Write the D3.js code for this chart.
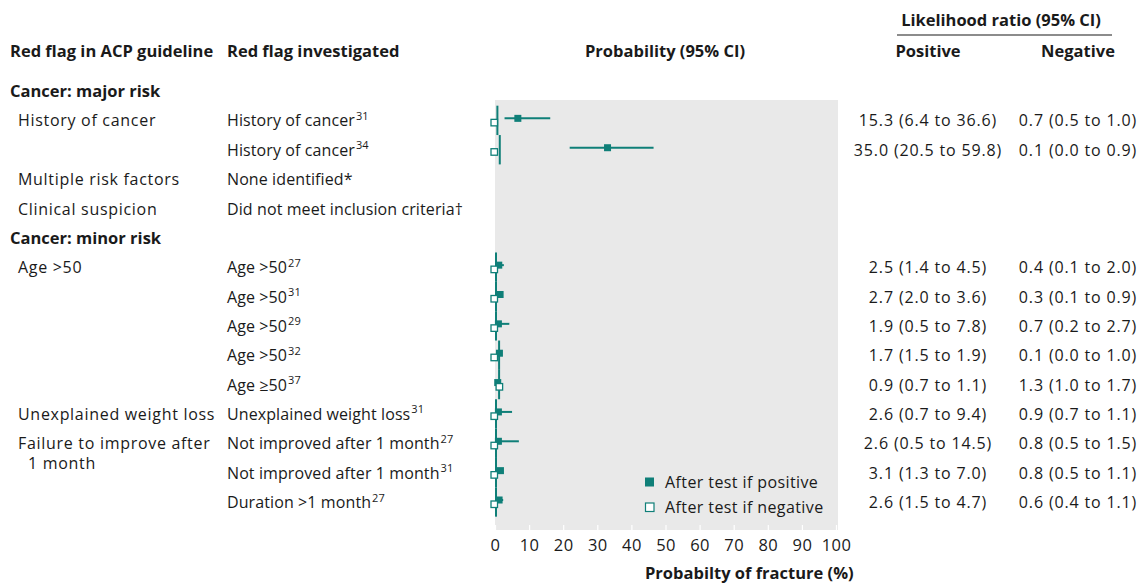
<!DOCTYPE html>
<html>
<head>
<meta charset="utf-8">
<script src="https://cdn.jsdelivr.net/npm/d3@7"></script>
<style>
  html, body { margin: 0; padding: 0; background: #fff; }
  svg { display: block; }
  text { font-family: "Open Sans", "Noto Sans", sans-serif; fill: #1a1a1a; }
</style>
</head>
<body>
<svg id="chart" width="1139" height="585"></svg>
<script>
// ---------- data ----------
// Row labels (index 0 = "Cancer: major risk" section row)
const guidelineLabels = ["Cancer: major risk", "History of cancer", "", "Multiple risk factors", "Clinical suspicion",
  "Cancer: minor risk", "Age >50", "", "", "", "", "Unexplained weight loss", "Failure to improve after", "", ""];
const guidelineWrap = [null, null, null, null, null, null, null, null, null, null, null, null, "1 month", null, null];
const sectionRows = [0, 5];
const investigatedLabels = ["", "History of cancer", "History of cancer", "None identified*", "Did not meet inclusion criteria\u2020",
  "", "Age >50", "Age >50", "Age >50", "Age >50", "Age \u226550", "Unexplained weight loss",
  "Not improved after 1 month", "Not improved after 1 month", "Duration >1 month"];
const refs = ["", "31", "34", "", "", "", "27", "31", "29", "32", "37", "31", "27", "31", "27"];

// Studies (rows with estimates)
const studyRows = [1, 2, 6, 7, 8, 9, 10, 11, 12, 13, 14];
const pretest  = [0.7, 1.4, 0.3, 0.3, 0.3, 1.2, 1.2, 0.3, 0.3, 0.3, 0.3];
const posEst   = [6.7, 33.0, 1.1, 1.5, 1.0, 1.3, 0.8, 1.0, 1.0, 1.6, 1.2];
const posLo    = [2.8, 21.9, 0.6, 1.1, 0.3, 1.2, 0.6, 0.3, 0.2, 0.7, 0.6];
const posHi    = [16.2, 46.5, 2.6, 1.9, 4.2, 1.5, 0.9, 5.0, 7.0, 2.2, 2.4];
const negEst   = [0.0, 0.0, 0.0, 0.0, 0.0, 0.0, 1.5, 0.0, 0.0, 0.0, 0.0];
const negLo    = [0.0, 0.0, 0.0, 0.0, 0.0, 0.0, 1.2, 0.0, 0.0, 0.0, 0.0];
const negHi    = [0.0, 0.0, 0.1, 0.0, 0.2, 0.0, 1.7, 0.0, 0.0, 0.0, 0.0];
const lrPositive = ["15.3 (6.4 to 36.6)", "35.0 (20.5 to 59.8)", "2.5 (1.4 to 4.5)", "2.7 (2.0 to 3.6)", "1.9 (0.5 to 7.8)",
  "1.7 (1.5 to 1.9)", "0.9 (0.7 to 1.1)", "2.6 (0.7 to 9.4)", "2.6 (0.5 to 14.5)", "3.1 (1.3 to 7.0)", "2.6 (1.5 to 4.7)"];
const lrNegative = ["0.7 (0.5 to 1.0)", "0.1 (0.0 to 0.9)", "0.4 (0.1 to 2.0)", "0.3 (0.1 to 0.9)", "0.7 (0.2 to 2.7)",
  "0.1 (0.0 to 1.0)", "1.3 (1.0 to 1.7)", "0.9 (0.7 to 1.1)", "0.8 (0.5 to 1.5)", "0.8 (0.5 to 1.1)", "0.6 (0.4 to 1.1)"];
const xTicks = [0, 10, 20, 30, 40, 50, 60, 70, 80, 90, 100];
const legendLabels = ["After test if positive", "After test if negative"];

// ---------- layout ----------
const teal = "#0f7f78";
const fs = 16, fsb = 16.5;
const svg = d3.select("#chart");
const x = d3.scaleLinear().domain([0, 100]).range([495, 836]);
const y = d3.scaleLinear().domain([0, 14]).range([91, 502]);
const plotTop = 100, plotBottom = 530, plotRight = 838;

// background panel
svg.append("rect").attr("x", x(0)).attr("y", plotTop)
  .attr("width", plotRight - x(0)).attr("height", plotBottom - plotTop).attr("fill", "#e9e9e9");

// headers
const hdr = svg.append("g").attr("font-weight", 700).attr("font-size", fsb);
hdr.append("text").attr("x", 10).attr("y", 51).attr("dy", "0.35em").text("Red flag in ACP guideline");
hdr.append("text").attr("x", 227).attr("y", 51).attr("dy", "0.35em").text("Red flag investigated");
hdr.append("text").attr("x", 665).attr("y", 51).attr("dy", "0.35em").attr("text-anchor", "middle").text("Probability (95% CI)");
hdr.append("text").attr("x", 1001).attr("y", 20).attr("dy", "0.35em").attr("text-anchor", "middle").text("Likelihood ratio (95% CI)");
hdr.append("text").attr("x", 928).attr("y", 51).attr("dy", "0.35em").attr("text-anchor", "middle").text("Positive");
hdr.append("text").attr("x", 1078).attr("y", 51).attr("dy", "0.35em").attr("text-anchor", "middle").text("Negative");
svg.append("line").attr("x1", 897).attr("x2", 1112).attr("y1", 35).attr("y2", 35).attr("stroke", "#1a1a1a").attr("stroke-width", 1.2);

// row labels
const rows = svg.append("g").attr("font-size", fs);
guidelineLabels.forEach((lab, i) => {
  if (!lab) return;
  const sec = sectionRows.includes(i);
  rows.append("text").attr("x", sec ? 10 : 18).attr("y", y(i) + (sec ? 0 : 0.5)).attr("dy", "0.35em")
    .attr("font-weight", sec ? 700 : 400).attr("font-size", sec ? fsb : fs)
    .attr("letter-spacing", sec ? 0 : 0.7).text(lab);
  if (guidelineWrap[i]) {
    rows.append("text").attr("x", 28).attr("y", y(i) + 20.5).attr("dy", "0.35em")
      .attr("letter-spacing", 0.7).text(guidelineWrap[i]);
  }
});
investigatedLabels.forEach((lab, i) => {
  if (!lab) return;
  const t = rows.append("text").attr("x", 227).attr("y", y(i) + 0.5).attr("dy", "0.35em").attr("letter-spacing", 0.1).text(lab);
  if (refs[i]) {
    t.append("tspan").attr("font-size", 11).attr("dx", 1).attr("dy", "-0.6em").text(refs[i]);
  }
});

// axis
const axis = d3.axisBottom(x).tickValues(xTicks).tickSize(-5).tickPadding(9);
const ag = svg.append("g").attr("transform", `translate(0,${plotBottom})`).call(axis);
ag.select(".domain").remove();
ag.selectAll(".tick line").attr("stroke", "#ffffff").attr("stroke-width", 1.2);
ag.selectAll(".tick text").attr("font-size", 16.5).attr("font-family", "\"Open Sans\", sans-serif")
  .attr("fill", "#1a1a1a").attr("letter-spacing", 0.4);
svg.append("text").attr("x", 645).attr("y", 573).attr("dy", "0.35em").attr("font-weight", 700).attr("font-size", fsb)
  .text("Probabilty of fracture (%)");

// marks
const g = svg.append("g");
const half = (y(1) - y(0)) / 2;
studyRows.forEach((r, k) => {
  const cy = y(r);
  // pretest vertical line
  g.append("line").attr("x1", x(pretest[k])).attr("x2", x(pretest[k]))
    .attr("y1", cy - half).attr("y2", cy + half).attr("stroke", teal).attr("stroke-width", 2);
  // negative CI + open square
  g.append("line").attr("x1", x(negLo[k])).attr("x2", x(negHi[k])).attr("y1", cy + 2).attr("y2", cy + 2)
    .attr("stroke", teal).attr("stroke-width", 2);
  // positive CI + filled square
  g.append("line").attr("x1", x(posLo[k])).attr("x2", x(posHi[k])).attr("y1", cy - 2).attr("y2", cy - 2)
    .attr("stroke", teal).attr("stroke-width", 2);
  g.append("rect").attr("x", x(posEst[k]) - 3.5).attr("y", cy - 2 - 3.5).attr("width", 7).attr("height", 7)
    .attr("fill", teal);
  g.append("rect").attr("x", x(negEst[k]) - 4).attr("y", cy + 2 - 3).attr("width", 6.5).attr("height", 6.5)
    .attr("fill", "#fff").attr("stroke", teal).attr("stroke-width", 1.3);
  // likelihood ratio texts
  rows.append("text").attr("x", 928).attr("y", cy + 0.5).attr("dy", "0.35em").attr("text-anchor", "middle")
    .attr("letter-spacing", 0.85).text(lrPositive[k]);
  rows.append("text").attr("x", 1078).attr("y", cy + 0.5).attr("dy", "0.35em").attr("text-anchor", "middle")
    .attr("letter-spacing", 0.85).text(lrNegative[k]);
});

// legend
const lg = svg.append("g").attr("font-size", fs);
legendLabels.forEach((lab, i) => {
  const ly = 482 + i * 25;
  if (i === 0) {
    lg.append("rect").attr("x", 645).attr("y", ly - 4.5).attr("width", 9).attr("height", 9).attr("fill", teal);
  } else {
    lg.append("rect").attr("x", 645.5).attr("y", ly - 4).attr("width", 8.5).attr("height", 8.5)
      .attr("fill", "#fff").attr("stroke", teal).attr("stroke-width", 1.2);
  }
  lg.append("text").attr("x", 665).attr("y", ly).attr("dy", "0.35em").attr("letter-spacing", 0.4).text(lab);
});
</script>
</body>
</html>
